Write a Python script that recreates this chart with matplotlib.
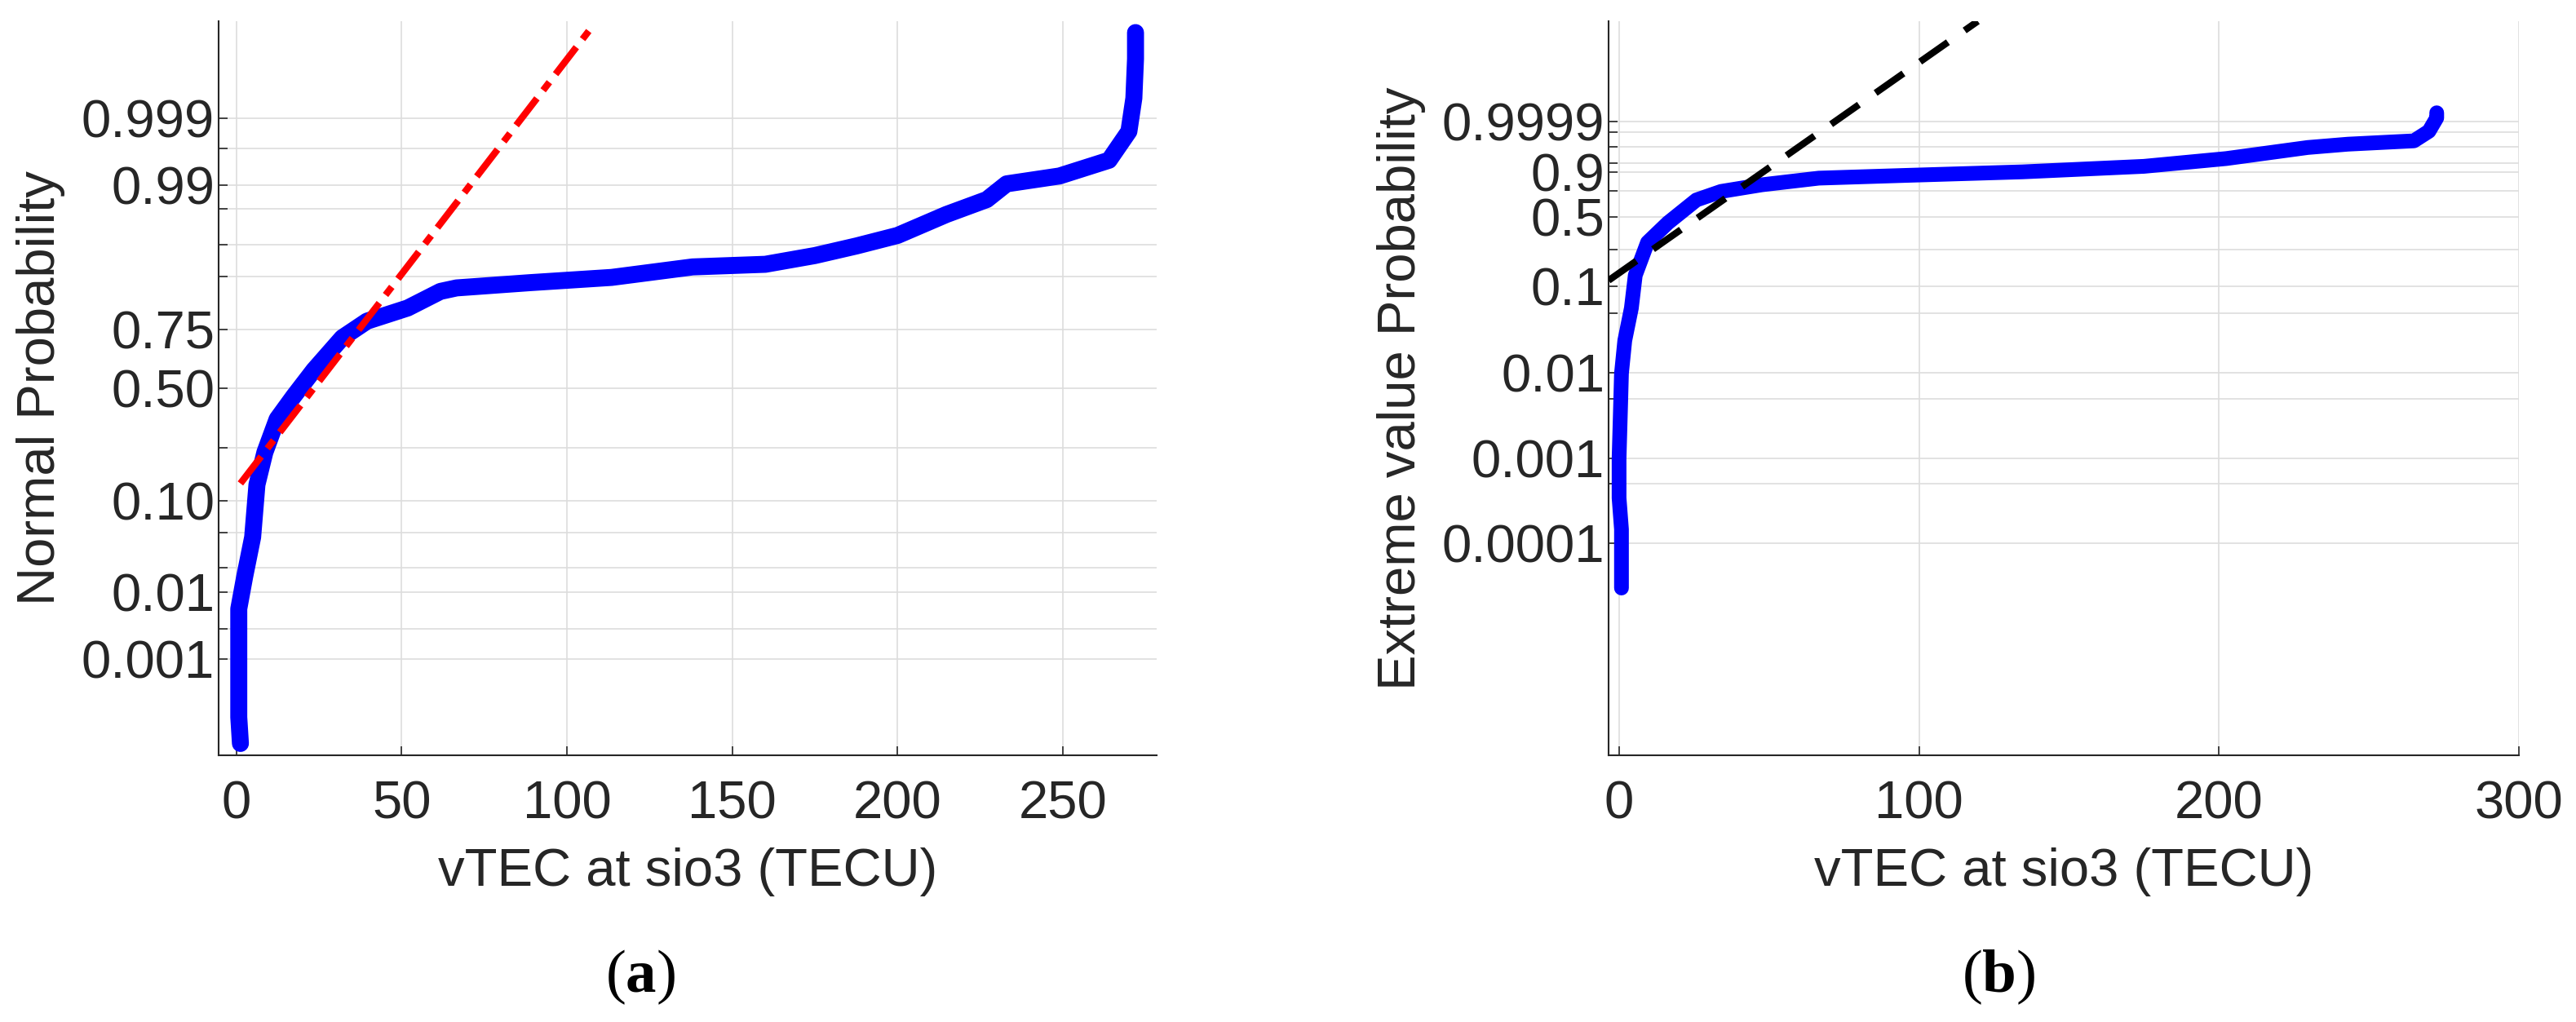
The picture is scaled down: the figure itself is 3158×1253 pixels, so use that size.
import matplotlib
matplotlib.use("Agg")
import matplotlib.pyplot as plt
import numpy as np
from statistics import NormalDist

# ---- data (a): normal probability plot ----
a_x = [1.2, 0.7, 0.7, 0.7, 2.5, 4.9, 6.2, 8.6, 12.3, 17.3, 23.4, 32, 39.5, 51.8, 61.7, 66.6,
       88.8, 113.5, 138, 160, 175, 187.6, 200, 214.8, 227, 233, 249, 264, 270, 271.5, 272, 272]
a_z = [-4.06, -3.76, -3.05, -2.52, -2.15, -1.70, -1.10, -0.73, -0.35, -0.09, 0.21, 0.58, 0.77,
       0.92, 1.11, 1.15, 1.21, 1.27, 1.39, 1.42, 1.52, 1.63, 1.75, 1.99, 2.16, 2.34, 2.43, 2.61,
       2.94, 3.32, 3.77, 4.07]
a_fit_x = [1.2, 108]
a_fit_z = [-1.086, 4.157]
a_ticks = [0.001, 0.003, 0.01, 0.02, 0.05, 0.10, 0.25, 0.50, 0.75, 0.90, 0.95, 0.98, 0.99, 0.997, 0.999]
a_labels = {0.001: "0.001", 0.01: "0.01", 0.10: "0.10", 0.50: "0.50", 0.75: "0.75", 0.99: "0.99", 0.999: "0.999"}

# ---- data (b): extreme value probability plot ----
b_x = [0.8, 0.8, 0.8, 0, 0, 0.5, 0.8, 1.9, 4.1, 5.4, 9.5, 16.3, 25.8, 34, 47.6, 66.6, 93.8,
       134.5, 175, 202.4, 229.6, 243, 265, 270, 272.6, 272.6]
b_w = [-10.42, -9.31, -8.83, -7.98, -6.91, -5.49, -4.61, -3.72, -2.84, -1.95, -1.06, -0.53, 0.09,
       0.32, 0.50, 0.68, 0.75, 0.85, 1.0, 1.21, 1.51, 1.60, 1.69, 1.95, 2.31, 2.45]
b_fit_x = [-3.5, 119.6]
b_fit_w = [-2.09, 4.93]
b_ticks = [0.0001, 0.0005, 0.001, 0.005, 0.01, 0.05, 0.1, 0.25, 0.5, 0.75, 0.9, 0.95, 0.99, 0.999, 0.9999]
b_labels = {0.0001: "0.0001", 0.001: "0.001", 0.01: "0.01", 0.1: "0.1", 0.5: "0.5", 0.9: "0.9", 0.9999: "0.9999"}

nd = NormalDist()
def ev(p):
    return np.log(-np.log(1 - p))

plt.rcParams['mathtext.fontset'] = 'custom'
plt.rcParams['mathtext.rm'] = 'Liberation Serif'
plt.rcParams['mathtext.bf'] = 'Liberation Serif:bold'

W, H = 3158, 1253
fig = plt.figure(figsize=(W / 100, H / 100), dpi=100)
FONT = ['Liberation Sans', 'DejaVu Sans']
TC = '#262626'
BOT, TOP = 926, 26

def style(ax):
    for s in ['top', 'right']:
        ax.spines[s].set_visible(False)
    for s in ['left', 'bottom']:
        ax.spines[s].set_color(TC)
        ax.spines[s].set_linewidth(1.5)
    ax.grid(True, color='#dddddd', linewidth=1.2)
    ax.tick_params(colors=TC, labelsize=47, length=8, width=1.2, direction='in')
    ax.tick_params(axis='x', pad=22)
    for lab in ax.get_xticklabels() + ax.get_yticklabels():
        lab.set_family(FONT)

def panel_label(x, letter):
    fig.text(x / W, 1 - 1197 / H, r"$\mathrm{(}\mathbf{%s}\mathrm{)}$" % letter, fontsize=54,
             ha='center', va='center', color='black')

# (a)
ax1 = fig.add_axes([268 / W, (H - BOT) / H, 1150 / W, (BOT - TOP) / H])
ax1.plot(a_x, a_z, color='#0000ff', lw=15, solid_capstyle='round', solid_joinstyle='round', zorder=3)
ax1.plot(a_fit_x, a_fit_z, color='#ff0000', lw=6, linestyle=(0, (5, 1.5, 1.5, 1.5)), zorder=4)
ax1.set_xlim(-5.4, 278.4)
ax1.set_ylim(-4.195, 4.2)
ax1.set_xticks([0, 50, 100, 150, 200, 250])
ax1.set_yticks([nd.inv_cdf(p) for p in a_ticks])
ax1.set_yticklabels([a_labels.get(p, "") for p in a_ticks])
ax1.set_xlabel("vTEC at sio3 (TECU)", fontsize=47, color=TC, family=FONT, labelpad=16)
ax1.set_ylabel("Normal Probability", fontsize=47, color=TC, family=FONT, labelpad=14)
style(ax1)
panel_label(785, "a")

# (b)
ax2 = fig.add_axes([1972 / W, (H - BOT) / H, 1116 / W, (BOT - TOP) / H])
ax2.plot(b_x, b_w, color='#0000ff', lw=13, solid_capstyle='round', solid_joinstyle='round', zorder=3)
ax2.plot(b_fit_x, b_fit_w, color='black', lw=6, linestyle=(0, (5, 3)), zorder=4)
ax2.set_xlim(-3.5, 300)
ax2.set_ylim(-14.95, 4.93)
ax2.set_xticks([0, 100, 200, 300])
ax2.set_yticks([ev(p) for p in b_ticks])
ax2.set_yticklabels([b_labels.get(p, "") for p in b_ticks])
ax2.set_xlabel("vTEC at sio3 (TECU)", fontsize=47, color=TC, family=FONT, labelpad=16)
ax2.set_ylabel("Extreme value Probability", fontsize=47, color=TC, family=FONT, labelpad=14)
style(ax2)
panel_label(1580 + 870, "b")

fig.savefig("out.png", dpi=100, facecolor='white')
